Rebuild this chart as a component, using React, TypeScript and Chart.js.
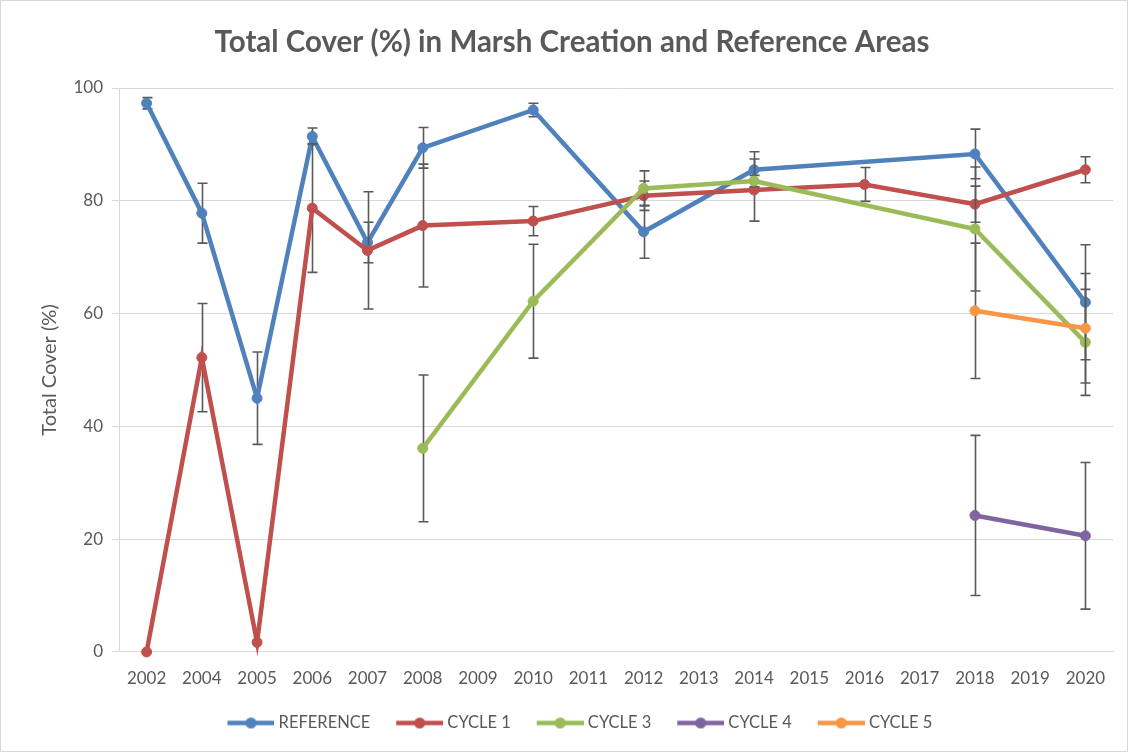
import { useEffect, useRef } from 'react';
import { Chart, registerables } from 'chart.js';

Chart.register(...registerables);

const years = ['2002', '2004', '2005', '2006', '2007', '2008', '2009', '2010', '2011', '2012', '2013', '2014', '2015', '2016', '2017', '2018', '2019', '2020'];

const referenceValues = [97.3, 77.8, 45.0, 91.4, 72.6, 89.4, null, 96.1, null, 74.5, null, 85.5, null, null, null, 88.3, null, 62.0];
const referenceErrors = [1.0, 5.3, 8.2, 1.5, 3.6, 3.6, null, 1.2, null, 4.7, null, 3.2, null, null, null, 4.4, null, 10.2];

const cycle1Values = [0, 52.2, 1.7, 78.7, 71.2, 75.6, null, 76.4, null, 80.9, null, 81.9, null, 82.9, null, 79.4, null, 85.5];
const cycle1Errors = [null, 9.6, null, 11.4, 10.4, 10.9, null, 2.6, null, 2.6, null, 5.5, null, 3.0, null, 3.2, null, 2.3];

const cycle3Values = [null, null, null, null, null, 36.1, null, 62.2, null, 82.2, null, 83.5, null, null, null, 75.0, null, 54.9];
const cycle3Errors = [null, null, null, null, null, 13.0, null, 10.1, null, 3.1, null, 1.0, null, null, null, 11.0, null, 9.4];

const cycle4Values = [null, null, null, null, null, null, null, null, null, null, null, null, null, null, null, 24.2, null, 20.6];
const cycle4Errors = [null, null, null, null, null, null, null, null, null, null, null, null, null, null, null, 14.2, null, 13.0];

const cycle5Values = [null, null, null, null, null, null, null, null, null, null, null, null, null, null, null, 60.5, null, 57.4];
const cycle5Errors = [null, null, null, null, null, null, null, null, null, null, null, null, null, null, null, 12.0, null, 9.7];

const seriesLabels = ['REFERENCE', 'CYCLE 1', 'CYCLE 3', 'CYCLE 4', 'CYCLE 5'];
const seriesColors = ['#4F81BD', '#C0504D', '#9BBB59', '#8064A2', '#F79646'];
const seriesValues = [referenceValues, cycle1Values, cycle3Values, cycle4Values, cycle5Values];
const seriesErrors = [referenceErrors, cycle1Errors, cycle3Errors, cycle4Errors, cycle5Errors];

const yTicks = [0, 20, 40, 60, 80, 100];

const FONT = 'Lato, "Noto Sans", sans-serif';
const TEXT = '#595959';

function makeIcon(color: string) {
  const c = document.createElement('canvas');
  c.width = 67;
  c.height = 13;
  const g = c.getContext('2d')!;
  g.strokeStyle = color;
  g.lineWidth = 4.5;
  g.beginPath();
  g.moveTo(20, 6.5);
  g.lineTo(67, 6.5);
  g.stroke();
  g.fillStyle = color;
  g.beginPath();
  g.arc(43.5, 6.5, 5.5, 0, Math.PI * 2);
  g.fill();
  return c;
}

const errorBarPlugin = {
  id: 'errorBars',
  beforeDatasetDraw(chart: any, args: any) {
    const ds = chart.data.datasets[args.index];
    const errs = ds.errors as (number | null)[];
    if (!errs) return;
    const yScale = chart.scales.y;
    const ctx = chart.ctx;
    ctx.save();
    ctx.strokeStyle = '#595959';
    ctx.lineWidth = 1.6;
    args.meta.data.forEach((pt: any, i: number) => {
      const v = ds.data[i];
      const e = errs[i];
      if (v == null || e == null) return;
      const x = Math.round(pt.x) + 0.5;
      const top = yScale.getPixelForValue(v + e);
      const bot = yScale.getPixelForValue(v - e);
      ctx.beginPath();
      ctx.moveTo(x, top);
      ctx.lineTo(x, bot);
      ctx.moveTo(x - 5, top);
      ctx.lineTo(x + 5, top);
      ctx.moveTo(x - 5, bot);
      ctx.lineTo(x + 5, bot);
      ctx.stroke();
    });
    ctx.restore();
  },
};

export default function App() {
  const ref = useRef<HTMLCanvasElement>(null);

  useEffect(() => {
    if (!ref.current) return;
    const icons = seriesColors.map((c) => makeIcon(c));
    const chart = new Chart(ref.current, {
      type: 'line',
      data: {
        labels: years,
        datasets: seriesLabels.map((label, i) => ({
          label,
          data: seriesValues[i],
          errors: seriesErrors[i],
          borderColor: seriesColors[i],
          backgroundColor: seriesColors[i],
          pointBackgroundColor: seriesColors[i],
          pointBorderColor: seriesColors[i],
          pointBorderWidth: 1,
          pointRadius: 5,
          pointHoverRadius: 5,
          borderWidth: 4.5,
          spanGaps: true,
          tension: 0,
          clip: false,
          order: seriesLabels.length - i,
        })) as any,
      },
      options: {
        responsive: false,
        maintainAspectRatio: false,
        animation: false,
        devicePixelRatio: 1,
        layout: { padding: { top: 0, left: 30, right: 14, bottom: 9.75 } },
        plugins: {
          tooltip: { enabled: false },
          title: {
            display: true,
            text: 'Total Cover (%) in Marsh Creation and Reference Areas',
            color: TEXT,
            font: { family: FONT, size: 29.5, weight: 'bold', lineHeight: 1.2 },
            padding: { top: 23.3, bottom: 28.3 },
          },
          legend: {
            position: 'bottom',
            labels: {
              color: TEXT,
              font: { family: FONT, size: 16.5 },
              usePointStyle: true,
              pointStyleWidth: 58.75,
              padding: 10,
              generateLabels: (ch: any) =>
                ch.data.datasets.map((ds: any, i: number) => ({
                  text: ds.label,
                  fillStyle: ds.borderColor,
                  strokeStyle: ds.borderColor,
                  fontColor: TEXT,
                  lineWidth: 0,
                  pointStyle: icons[i],
                  hidden: false,
                  datasetIndex: i,
                })),
            },
          },
        },
        scales: {
          x: {
            type: 'category',
            offset: true,
            grid: { display: false, drawTicks: false },
            border: { display: true, color: '#d9d9d9', width: 1 },
            ticks: {
              color: TEXT,
              font: { family: FONT, size: 17 },
              padding: 16.2,
              maxRotation: 0,
              autoSkip: false,
            },
          },
          y: {
            min: 0,
            max: 100,
            afterFit: (scale: any) => {
              scale.width = 88;
            },
            afterBuildTicks: (scale: any) => {
              scale.ticks = yTicks.map((v) => ({ value: v }));
            },
            grid: { color: '#d9d9d9', lineWidth: 1, tickLength: 7, drawTicks: true },
            border: { display: true, color: '#d9d9d9', width: 1 },
            ticks: {
              color: TEXT,
              font: { family: FONT, size: 17 },
              padding: 9,
            },
            title: {
              display: true,
              text: 'Total Cover (%)',
              color: TEXT,
              font: { family: FONT, size: 20 },
              padding: { top: 7, bottom: 0 },
            },
          },
        },
      },
      plugins: [errorBarPlugin],
    });
    return () => chart.destroy();
  }, []);

  return (
    <div
      style={{
        position: 'fixed',
        left: 0,
        top: 0,
        width: 1128,
        height: 752,
        border: '1px solid #d9d9d9',
        boxSizing: 'border-box',
        background: '#fff',
      }}
    >
      <canvas ref={ref} width={1126} height={750} style={{ display: 'block', width: 1126, height: 750 }} />
    </div>
  );
}
